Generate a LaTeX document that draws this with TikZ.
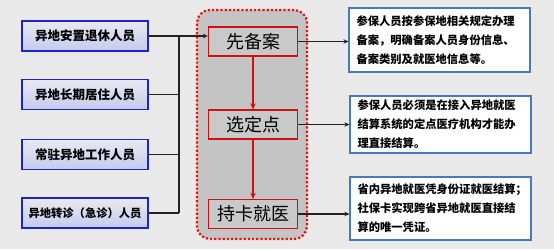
\documentclass[tikz,border=0pt]{standalone}
\usepackage{fontspec}
\newfontfamily\cjk{Noto Sans CJK SC}
\usetikzlibrary{arrows.meta, positioning}
\definecolor{page-bg}{HTML}{E9E9E9}
\definecolor{group-border}{HTML}{1E22CC}
\definecolor{group-top}{HTML}{E8E9EF}
\definecolor{group-bot}{HTML}{C4CBEE}
\definecolor{panel-fill}{HTML}{C4C4C4}
\definecolor{panel-dots}{HTML}{EE1111}
\definecolor{step-border}{HTML}{D01010}
\definecolor{step-fill}{HTML}{C9C9C9}
\definecolor{note-border}{HTML}{4A78C0}
\definecolor{link}{HTML}{222222}
\tikzset{
  group/.style={
    draw=group-border, line width=1.6pt, top color=group-top, bottom color=group-bot,
    minimum width=126pt, minimum height=30pt, inner sep=0pt,
    font=\cjk\bfseries\fontsize{12.5}{14}\selectfont
  },
  panel/.style={
    draw=panel-dots, fill=panel-fill, line width=2.2pt, dotted, rounded corners=13pt,
    minimum width=110pt, minimum height=229pt, inner sep=0pt
  },
  stepbox/.style={
    draw=step-border, fill=step-fill, line width=1.3pt,
    minimum width=89pt, minimum height=29pt, inner sep=0pt,
    font=\cjk\fontsize{18}{20}\selectfont
  },
  notebox/.style={
    draw=note-border, fill=white, line width=1.1pt, align=left,
    minimum width=181pt, inner sep=0pt, text width=166pt,
    font=\cjk\bfseries\fontsize{11.3}{19}\selectfont
  },
  link-edge/.style={-{Stealth[length=5pt, width=4.5pt]}, line width=1.2pt, draw=link},
  flow-edge/.style={-{Stealth[length=6pt, width=5.5pt]}, line width=2pt, draw=step-border}
}

\begin{document}
\begin{tikzpicture}[x=1pt, y=-1pt]
  \useasboundingbox[fill=page-bg] (0,0) rectangle (554,249);

  % ---- Groups of insured persons (left column) ----------------------------
  \node[group] (retired)  at (85,  36.0) {异地安置退休人员};
  \node[group] (resident) at (85,  94.5) {异地长期居住人员};
  \node[group] (worker)   at (85, 154.5) {常驻异地工作人员};
  \node[group] (transfer) at (85, 213.0)
        {\fontsize{11.3}{14}\selectfont 异地转诊（急诊）人员};

  % ---- Dotted panel with the three steps ----------------------------------
  \node[panel] (panel) at (252, 124.5) {};
  \node[stepbox] (record) at (253,  41.5) {先备案};
  \node[stepbox] (choose) at (253, 124.5) {选定点};
  \node[stepbox] (card)   at (253, 214.0) {持卡就医};

  % ---- Notes (right column) -----------------------------------------------
  \node[notebox, minimum height=64pt] (note-record) at (439.5,  40.0)
        {参保人员按参保地相关规定办理\\备案，明确备案人员身份信息、\\备案类别及就医地信息等。};
  \node[notebox, minimum height=57pt] (note-choose) at (440.5, 124.5)
        {参保人员必须是在接入异地就医\\结算系统的定点医疗机构才能办\\理直接结算。};
  \node[notebox, minimum height=63pt] (note-card)   at (440.5, 208.5)
        {省内异地就医凭身份证就医结算；\\社保卡实现跨省异地就医直接结\\算的唯一凭证。};

  % ---- Bus joining the groups ---------------------------------------------
  \coordinate (bus) at (179, 0);
  \draw[link, line width=1.2pt] (retired.east)  -- (retired.east -| bus);
  \draw[link, line width=1.2pt] (resident.east) -- (resident.east -| bus);
  \draw[link, line width=1.2pt] (worker.east)   -- (worker.east -| bus);
  \draw[link, line width=1.2pt] (transfer.east) -- (transfer.east -| bus);
  \draw[link, line width=1.2pt] (retired.east -| bus) -- (transfer.east -| bus);
  \draw[link-edge] (retired.east -| bus) -- (retired.east -| record.west);

  % ---- Step order and notes -----------------------------------------------
  \draw[flow-edge] (record.south) -- (choose.north);
  \draw[flow-edge] (choose.south) -- (card.north);
  \draw[link-edge] (record.east) -- (record.east -| note-record.west);
  \draw[link-edge] (choose.east) -- (choose.east -| note-choose.west);
  \draw[link-edge] (card.east)   -- (card.east -| note-card.west);

\end{tikzpicture}
\end{document}
